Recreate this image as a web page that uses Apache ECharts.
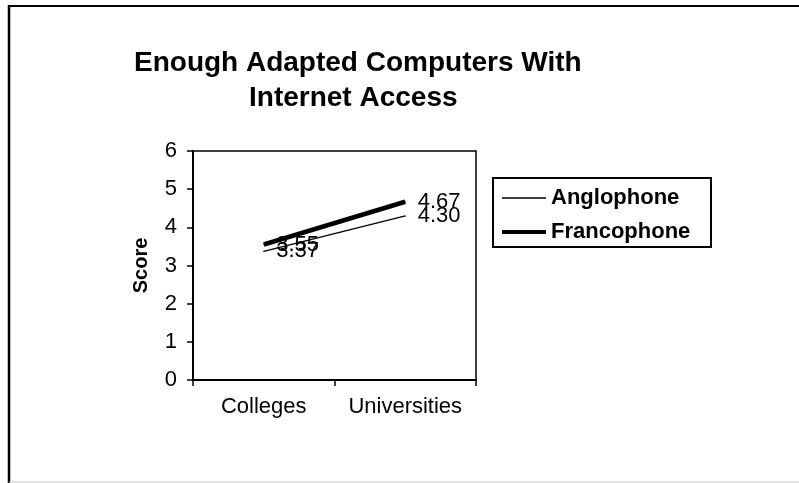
<!DOCTYPE html>
<html>
<head>
<meta charset="utf-8">
<script src="https://cdn.jsdelivr.net/npm/echarts@6/dist/echarts.min.js"></script>
<style>
  html, body { margin: 0; padding: 0; background: #fff; }
  #chart { width: 799px; height: 483px; }
</style>
</head>
<body>
<div id="chart"></div>
<script>
// 数据
var categories = ['Colleges', 'Universities'];
var anglophone = [3.37, 4.30];
var francophone = [3.55, 4.67];
var yTicks = [0, 1, 2, 3, 4, 5, 6];
var titleLines = ['Enough Adapted Computers With', 'Internet Access'];

var font = '"Liberation Sans", Arial, sans-serif';
var chart = echarts.init(document.getElementById('chart'));

var titleText = {
  fontFamily: font,
  fontSize: 28,
  fontWeight: 'bold',
  color: '#000',
  lineHeight: 36
};

// 图例文字样式
var legendText = {
  fontFamily: font,
  fontSize: 22,
  fontWeight: 'bold',
  color: '#000',
  lineHeight: 24
};

// 数据标签
function valueLabel() {
  return {
    show: true,
    position: 'right',
    distance: 12,
    fontFamily: font,
    fontSize: 22,
    color: '#000',
    formatter: function (p) { return p.value.toFixed(2); }
  };
}

var option = {
  backgroundColor: '#fff',
  animation: false,
  title: [
    { text: titleLines[0], left: 134, top: 45, padding: 0, textStyle: titleText },
    { text: titleLines[1], left: 249, top: 80, padding: 0, textStyle: titleText }
  ],
  legend: [
    {
      left: 502,
      top: 186,
      padding: 0,
      icon: 'rect',
      itemWidth: 44,
      itemHeight: 1.5,
      itemTextGap: 6,
      data: ['Anglophone'],
      textStyle: legendText
    },
    {
      left: 502,
      top: 220,
      padding: 0,
      icon: 'rect',
      itemWidth: 44,
      itemHeight: 4,
      itemTextGap: 6,
      data: ['Francophone'],
      textStyle: legendText
    }
  ],
  grid: {
    left: 193,
    right: 323,
    top: 151,
    bottom: 103,
    show: true,
    borderColor: '#000',
    borderWidth: 1.5
  },
  xAxis: {
    type: 'category',
    data: categories,
    boundaryGap: true,
    axisLine: { lineStyle: { color: '#000', width: 2 } },
    axisTick: { show: true, length: 6, lineStyle: { color: '#000', width: 1.5 } },
    axisLabel: { interval: 0, margin: 16, fontFamily: font, fontSize: 22, color: '#000' }
  },
  yAxis: {
    type: 'value',
    min: yTicks[0],
    max: yTicks[yTicks.length - 1],
    interval: 1,
    name: 'Score',
    nameLocation: 'middle',
    nameGap: 42,
    nameTextStyle: { fontFamily: font, fontSize: 20, fontWeight: 'bold', color: '#000' },
    splitLine: { show: false },
    axisLine: { show: true, lineStyle: { color: '#000', width: 2 } },
    axisTick: { show: true, length: 6, lineStyle: { color: '#000', width: 1.5 } },
    axisLabel: { margin: 16, fontFamily: font, fontSize: 22, color: '#000' }
  },
  series: [
    {
      name: 'Anglophone',
      type: 'line',
      data: anglophone,
      symbol: 'circle',
      symbolSize: 1,
      lineStyle: { color: '#000', width: 1.5 },
      itemStyle: { color: '#000' },
      label: valueLabel()
    },
    {
      name: 'Francophone',
      type: 'line',
      data: francophone,
      symbol: 'circle',
      symbolSize: 1,
      lineStyle: { color: '#000', width: 4.5 },
      itemStyle: { color: '#000' },
      label: valueLabel()
    }
  ],
  graphic: [
    // 外框
    { type: 'line', shape: { x1: 9, y1: 5, x2: 9, y2: 483 }, style: { stroke: '#000', lineWidth: 2.5 } },
    { type: 'line', shape: { x1: 8, y1: 6, x2: 799, y2: 6 }, style: { stroke: '#000', lineWidth: 2 } },
    { type: 'line', shape: { x1: 9, y1: 482, x2: 799, y2: 482 }, style: { stroke: '#c8c8c8', lineWidth: 1 } },
    // 图例框
    { type: 'rect', shape: { x: 493, y: 178, width: 218, height: 69 }, style: { fill: 'none', stroke: '#000', lineWidth: 2 } }
  ]
};

chart.setOption(option);
</script>
</body>
</html>
